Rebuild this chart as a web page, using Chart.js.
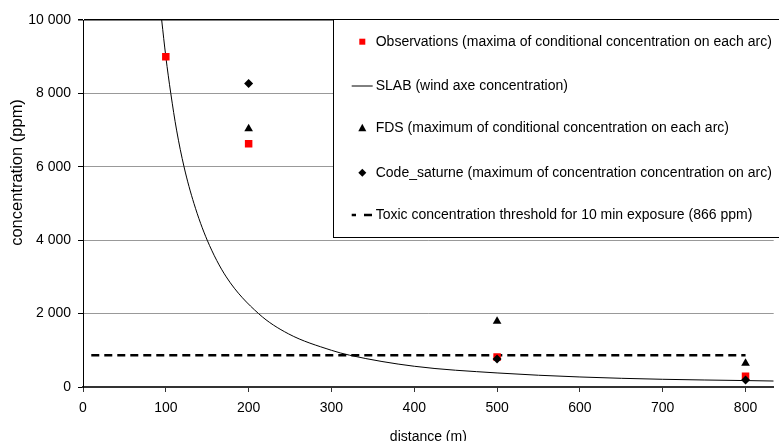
<!DOCTYPE html>
<html>
<head>
<meta charset="utf-8">
<script src="https://cdn.jsdelivr.net/npm/chart.js@4.4.0/dist/chart.umd.min.js"></script>
<style>
  html, body { margin: 0; padding: 0; background: #fff; }
  #wrap { width: 779px; height: 441px; position: relative; }
</style>
</head>
<body>
<div id="wrap"><canvas id="chart"></canvas></div>
<script>
/* ---- data ---- */
const obsX = [100, 200, 500, 800];
const obsY = [9000, 6630, 820, 290];

const fdsX = [200, 500, 800];
const fdsY = [7040, 1790, 650];

const saturneX = [200, 500, 800];
const saturneY = [8270, 760, 190];

// SLAB curve
const slabX = [95, 100, 106, 113, 122, 134, 150, 173, 212, 248, 300, 322, 400, 500, 600, 700, 800, 834];
const slabY = [10000, 9000, 8000, 7000, 6000, 5000, 4000, 3000, 2000, 1450, 1000, 866, 565, 383, 273, 210, 175, 163];

const thresholdX = [10, 800];
const thresholdY = [866, 866];

const xTicks = [0, 100, 200, 300, 400, 500, 600, 700, 800];
const yTicks = [0, 2000, 4000, 6000, 8000, 10000];

const labels = [
    "Observations (maxima of conditional concentration on each arc)",
    "SLAB (wind axe concentration)",
    "FDS (maximum of conditional concentration on each arc)",
    "Code_saturne (maximum of concentration concentration on arc)",
    "Toxic concentration threshold for 10 min exposure (866 ppm)"
];
const yTitle = "concentration (ppm)";

const FONT = "'Liberation Sans', Arial, sans-serif";

function pts(xs, ys) {
    return xs.map((x, i) => ({ x: x, y: ys[i] }));
}

function spaced(v) {
    return String(v).replace(/\B(?=(\d{3})+(?!\d))/g, " ");
}

/* ---- legend box inside the plot + y title (sits above centre in the original) ---- */
const boxLegend = {
    id: "boxLegend",
    afterDraw(chart) {
        const ctx = chart.ctx;
        const left = 333.5, top = 19.5, bottom = 237.5;
        const rows = [41.7, 86, 128.3, 172.7, 215];
        const mx = 362.3, tx = 375.7;

        ctx.save();
        ctx.fillStyle = "#fff";
        ctx.fillRect(left, top, 800 - left, bottom - top);
        ctx.strokeStyle = "#000";
        ctx.lineWidth = 1;
        ctx.strokeRect(left, top, 800 - left, bottom - top);

        // markers
        ctx.fillStyle = "#ff0000";
        ctx.fillRect(mx - 3, rows[0] - 3, 6, 6);

        ctx.beginPath();
        ctx.moveTo(351.7, rows[1]);
        ctx.lineTo(372.7, rows[1]);
        ctx.strokeStyle = "#000";
        ctx.lineWidth = 1;
        ctx.stroke();

        ctx.fillStyle = "#000";
        ctx.beginPath();
        ctx.moveTo(mx, rows[2] - 4.5);
        ctx.lineTo(mx + 4, rows[2] + 3);
        ctx.lineTo(mx - 4, rows[2] + 3);
        ctx.closePath();
        ctx.fill();

        ctx.beginPath();
        ctx.moveTo(mx, rows[3] - 4);
        ctx.lineTo(mx + 4, rows[3]);
        ctx.lineTo(mx, rows[3] + 4);
        ctx.lineTo(mx - 4, rows[3]);
        ctx.closePath();
        ctx.fill();

        ctx.beginPath();
        ctx.setLineDash([8, 8]);
        ctx.lineDashOffset = 3.7;
        ctx.lineWidth = 2.5;
        ctx.moveTo(351.7, rows[4]);
        ctx.lineTo(372.5, rows[4]);
        ctx.stroke();
        ctx.setLineDash([]);

        // texts
        ctx.fillStyle = "#000";
        ctx.font = "14px " + FONT;
        ctx.textBaseline = "middle";
        ctx.textAlign = "left";
        labels.forEach((t, i) => ctx.fillText(t, tx, rows[i]));

        // y axis title
        ctx.translate(17, 172.5);
        ctx.rotate(-Math.PI / 2);
        ctx.font = "16.5px " + FONT;
        ctx.textAlign = "center";
        ctx.fillText(yTitle, 0, 0);
        ctx.restore();
    }
};

new Chart(document.getElementById("chart"), {
    type: "scatter",
    data: {
        datasets: [
            {
                label: labels[0],
                data: pts(obsX, obsY),
                pointStyle: "rect",
                pointRadius: 5.3,
                backgroundColor: "#ff0000",
                borderColor: "#ff0000",
                borderWidth: 0,
                order: 3
            },
            {
                label: labels[1],
                data: pts(slabX, slabY),
                showLine: true,
                borderColor: "#000",
                borderWidth: 1,
                pointRadius: 0,
                cubicInterpolationMode: "monotone",
                order: 4
            },
            {
                label: labels[2],
                data: pts(fdsX, fdsY),
                pointStyle: "triangle",
                pointRadius: 5,
                backgroundColor: "#000",
                borderColor: "#000",
                borderWidth: 0,
                order: 2
            },
            {
                label: labels[3],
                data: pts(saturneX, saturneY),
                pointStyle: "rectRot",
                pointRadius: 4.5,
                backgroundColor: "#000",
                borderColor: "#000",
                borderWidth: 0,
                order: 1
            },
            {
                label: labels[4],
                data: pts(thresholdX, thresholdY),
                showLine: true,
                borderColor: "#000",
                borderWidth: 2.5,
                borderDash: [8, 5],
                pointRadius: 0,
                order: 5
            }
        ]
    },
    options: {
        responsive: true,
        maintainAspectRatio: false,
        animation: false,
        devicePixelRatio: 1,
        layout: { padding: { top: 20, right: 0, left: 0, bottom: 0 } },
        plugins: {
            legend: { display: false },
            tooltip: { enabled: false }
        },
        scales: {
            x: {
                type: "linear",
                min: 0,
                max: 834,
                afterBuildTicks: s => { s.ticks = xTicks.map(v => ({ value: v })); },
                afterFit: s => { s.height = 54; },
                ticks: {
                    color: "#000",
                    font: { family: FONT, size: 14 },
                    padding: 8,
                    maxRotation: 0
                },
                grid: {
                    drawOnChartArea: false,
                    drawTicks: true,
                    tickLength: 5,
                    tickColor: "#333"
                },
                border: { color: "#333", width: 2 },
                title: {
                    display: true,
                    text: "distance (m)",
                    color: "#000",
                    font: { family: FONT, size: 14 },
                    padding: { top: 0, bottom: -5 }
                }
            },
            y: {
                min: 0,
                max: 10000,
                afterBuildTicks: s => { s.ticks = yTicks.map(v => ({ value: v })); },
                afterFit: s => { s.width = 83; },
                ticks: {
                    color: "#000",
                    font: { family: FONT, size: 14 },
                    padding: 7,
                    callback: v => spaced(v)
                },
                grid: {
                    color: c => (c.tick && c.tick.value === 10000 ? "#000" : "#999"),
                    lineWidth: c => (c.tick && c.tick.value === 10000 ? 1.5 : 1),
                    tickLength: 5,
                    tickColor: "#000"
                },
                border: { color: "#000", width: 1 },
                title: { display: false }
            }
        }
    },
    plugins: [boxLegend]
});
</script>
</body>
</html>
